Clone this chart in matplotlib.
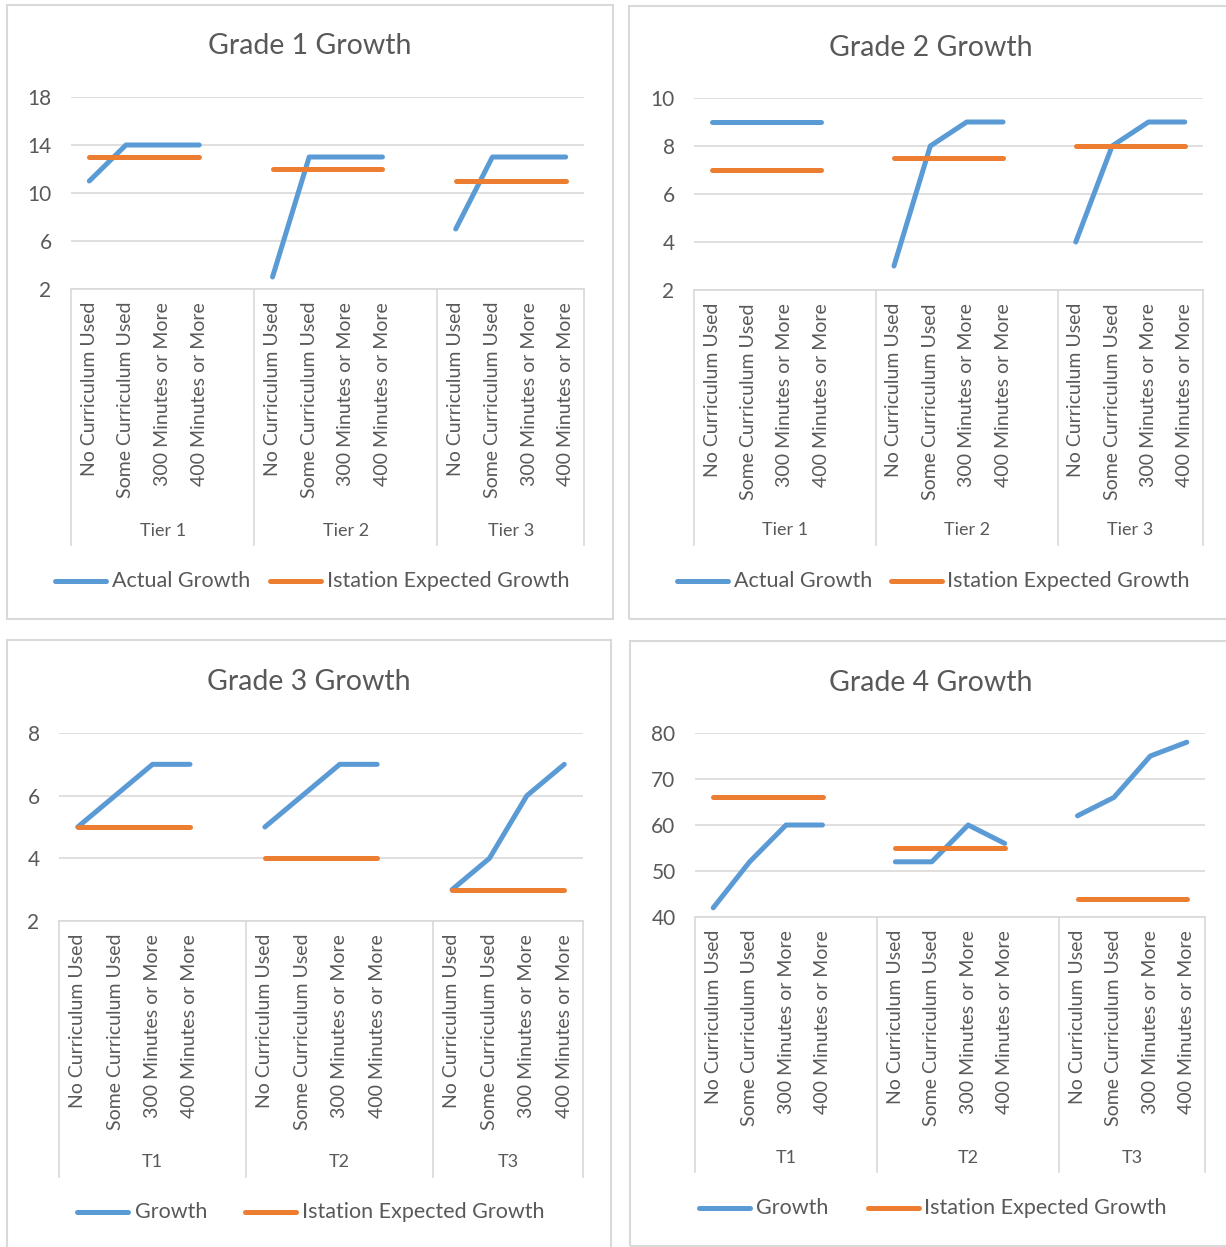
import matplotlib.pyplot as plt
from matplotlib.patches import Rectangle
from matplotlib.lines import Line2D
import matplotlib.transforms as mtransforms

plt.rcParams['font.family'] = ['Lato', 'DejaVu Sans']

W, H = 1226, 1247
BLUE = '#5B9BD5'
ORANGE = '#ED7D31'
TXT = '#595959'
GRID = '#D9D9D9'

categories = ['No Curriculum Used', 'Some Curriculum Used',
              '300 Minutes or More', '400 Minutes or More']

# grade 1
g1_tiers = ['Tier 1', 'Tier 2', 'Tier 3']
g1_actual = [[11, 14, 14, 14], [3, 13, 13, 13], [7, 13, 13, 13]]
g1_expected = [[13, 13, 13, 13], [12, 12, 12, 12], [11, 11, 11, 11]]
g1_ticks = [2, 6, 10, 14, 18]

# grade 2
g2_tiers = ['Tier 1', 'Tier 2', 'Tier 3']
g2_actual = [[9, 9, 9, 9], [3, 8, 9, 9], [4, 8, 9, 9]]
g2_expected = [[7, 7, 7, 7], [7.5, 7.5, 7.5, 7.5], [8, 8, 8, 8]]
g2_ticks = [2, 4, 6, 8, 10]

# grade 3
g3_tiers = ['T1', 'T2', 'T3']
g3_actual = [[5, 6, 7, 7], [5, 6, 7, 7], [3, 4, 6, 7]]
g3_expected = [[5, 5, 5, 5], [4, 4, 4, 4], [3, 3, 3, 3]]
g3_ticks = [2, 4, 6, 8]

# grade 4
g4_tiers = ['T1', 'T2', 'T3']
g4_actual = [[42, 52, 60, 60], [52, 52, 60, 56], [62, 66, 75, 78]]
g4_expected = [[66, 66, 66, 66], [55, 55, 55, 55], [44, 44, 44, 44]]
g4_ticks = [40, 50, 60, 70, 80]

fig = plt.figure(figsize=(W / 100, H / 100), dpi=100)


def fx(px):
    return px / W


def fy(py):
    return 1 - py / H


def panel(box, plot, sep_bot, tier_y, leg_y, leg, title_xy,
          title_text, tiers, actual, expected, ticks, s1name):
    # chart border
    x0, y0, x1, y1 = box
    fig.patches.append(Rectangle((fx(x0), fy(y1)), fx(x1 - x0), (y1 - y0) / H,
                                 transform=fig.transFigure, fill=False,
                                 edgecolor=GRID, linewidth=1.5))
    fig.text(fx(title_xy[0]), fy(title_xy[1]), title_text, ha='center',
             va='center', fontsize=20.5, color=TXT)

    px0, py0, px1, py1 = plot
    ax = fig.add_axes([fx(px0), fy(py1), fx(px1 - px0), (py1 - py0) / H])
    ax.set_xlim(0, 14)
    ax.set_ylim(ticks[0], ticks[-1])
    ax.set_yticks(ticks)
    ax.set_xticks([])
    ax.tick_params(axis='y', length=0, labelsize=15, labelcolor=TXT, pad=14)
    for s in ['top', 'right', 'left']:
        ax.spines[s].set_visible(False)
    ax.spines['bottom'].set_color(GRID)
    ax.spines['bottom'].set_linewidth(1.2)
    ax.grid(axis='y', color=GRID, linewidth=1.2)
    ax.set_axisbelow(True)

    for t in range(3):
        xs = [t * 5 + i + 0.5 for i in range(4)]
        ax.plot(xs, actual[t], color=BLUE, lw=3.6, solid_capstyle='round',
                solid_joinstyle='round', clip_on=False, zorder=3)
        ax.plot(xs, expected[t], color=ORANGE, lw=3.6, solid_capstyle='round',
                solid_joinstyle='round', clip_on=False, zorder=3)

    # multi level category axis
    trans = mtransforms.blended_transform_factory(ax.transData, fig.transFigure)
    for xb in [0, 5, 10, 14]:
        ax.add_line(Line2D([xb, xb], [fy(py1), fy(sep_bot)], transform=trans,
                           color=GRID, lw=1.2, clip_on=False))
    for t in range(3):
        for i, c in enumerate(categories):
            ax.text(t * 5 + i + 0.5, fy(py1 + 13), c, transform=trans,
                    rotation=90, ha='center', va='top', fontsize=14,
                    color=TXT, clip_on=False)
        mid = (t * 5 + min(t * 5 + 5, 14)) / 2
        ax.text(mid, fy(tier_y), tiers[t], transform=trans, ha='center',
                va='center', fontsize=13, color=TXT)

    # legend
    for (l0, l1, lt), col, name in [(leg[0], BLUE, s1name),
                                    (leg[1], ORANGE,
                                     'Istation Expected Growth')]:
        fig.lines.append(Line2D([fx(l0), fx(l1)], [fy(leg_y), fy(leg_y)],
                                transform=fig.transFigure, color=col, lw=3.6,
                                solid_capstyle='round'))
        fig.text(fx(lt), fy(leg_y), name, ha='left', va='center',
                 fontsize=15.5, color=TXT)
    return ax


panel((7, 5, 613, 619), (71, 97, 584, 289), 545, 531, 581,
      ((55, 106, 112), (270, 321, 327)), (310, 46), 'Grade 1 Growth',
      g1_tiers, g1_actual, g1_expected, g1_ticks, 'Actual Growth')
panel((629, 6, 1232, 619), (694, 98, 1203, 290), 545, 530, 581,
      ((677, 728, 734), (891, 942, 947)), (931, 48), 'Grade 2 Growth',
      g2_tiers, g2_actual, g2_expected, g2_ticks, 'Actual Growth')
panel((7, 640, 611, 1252), (59, 733, 583, 921), 1177, 1162, 1212,
      ((77, 128, 135), (245, 296, 302)), (309, 682), 'Grade 3 Growth',
      g3_tiers, g3_actual, g3_expected, g3_ticks, 'Growth')
panel((630, 641, 1232, 1246), (695, 733, 1205, 917), 1172, 1158, 1208,
      ((699, 750, 756), (868, 919, 924)), (931, 683), 'Grade 4 Growth',
      g4_tiers, g4_actual, g4_expected, g4_ticks, 'Growth')

fig.savefig('out.png', dpi=100, facecolor='white')
